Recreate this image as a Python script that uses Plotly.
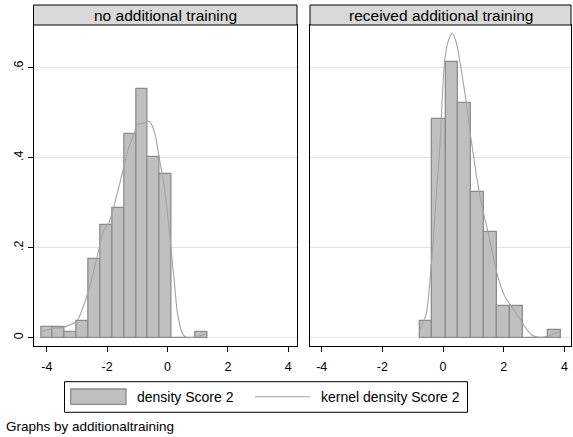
import plotly.graph_objects as go

# Histogram of Score 2 by additional training, with kernel density overlay
panel_titles = ["no additional training", "received additional training"]

# Left panel: no additional training
left_bin_edges = [-4.19, -3.80, -3.40, -3.01, -2.62, -2.22, -1.83, -1.44,
                  -1.04, -0.65, -0.26, 0.13, 0.52, 0.92, 1.31]
left_density = [0.024, 0.024, 0.012, 0.036, 0.175, 0.250, 0.288, 0.452,
                0.552, 0.401, 0.364, 0.0, 0.0, 0.012]
left_kde_x = [-4.19, -3.8, -3.4, -3.0, -2.83, -2.61, -2.44, -2.28, -2.11, -1.94,
              -1.78, -1.5, -1.28, -1.11, -1.0, -0.83, -0.61, -0.5, -0.39, -0.28,
              -0.11, 0.0, 0.11, 0.22, 0.33, 0.5, 0.67, 0.95, 1.28]
left_kde_y = [0.013, 0.021, 0.024, 0.037, 0.062, 0.106, 0.150, 0.195, 0.239, 0.256,
              0.291, 0.365, 0.424, 0.452, 0.474, 0.476, 0.481, 0.470, 0.445, 0.402,
              0.336, 0.276, 0.202, 0.128, 0.054, 0.008, 0.0, 0.002, 0.008]

# Right panel: received additional training
right_bin_edges = [-0.77, -0.35, 0.08, 0.50, 0.92, 1.35, 1.77, 2.20, 2.62,
                   3.04, 3.47, 3.89]
right_density = [0.036, 0.486, 0.612, 0.522, 0.324, 0.234, 0.071, 0.071,
                 0.0, 0.0, 0.018]
right_kde_x = [-0.77, -0.55, -0.44, -0.33, -0.22, -0.11, -0.03, 0.06, 0.2, 0.31,
               0.44, 0.55, 0.66, 0.77, 0.88, 0.99, 1.1, 1.27, 1.49, 1.65, 1.82,
               2.04, 2.26, 2.48, 2.7, 2.92, 3.14, 3.36, 3.63, 3.85]
right_kde_y = [0.017, 0.054, 0.121, 0.21, 0.321, 0.417, 0.53, 0.621, 0.665, 0.676,
               0.655, 0.615, 0.57, 0.52, 0.46, 0.41, 0.36, 0.295, 0.232, 0.18, 0.132,
               0.091, 0.069, 0.047, 0.024, 0.006, 0.001, 0.002, 0.008, 0.013]

x_ticks = [-4, -2, 0, 2, 4]
y_ticks = [0, 0.2, 0.4, 0.6]
y_tick_text = ["0", ".2", ".4", ".6"]
legend_labels = ["density Score 2", "kernel density Score 2"]
note_text = "Graphs by additionaltraining"

W, H = 573, 437
FONT = "Liberation Sans, Arial, sans-serif"
BAR_FILL = "#bfbfbf"
BAR_LINE = "#8c8c8c"
KDE_COLOR = "#a3a3a3"
GRID = "#e3e3e3"
STRIP = "#d9d9d9"


def px(x):
    return x / W


def py(y):
    return 1 - y / H


fig = go.Figure()

panels = [
    (left_bin_edges, left_density, left_kde_x, left_kde_y, "x", "y"),
    (right_bin_edges, right_density, right_kde_x, right_kde_y, "x2", "y2"),
]
for edges, dens, kx, ky, xa, ya in panels:
    centers = [(a + b) / 2 for a, b in zip(edges[:-1], edges[1:])]
    widths = [b - a for a, b in zip(edges[:-1], edges[1:])]
    fig.add_trace(go.Bar(
        x=centers, y=dens, width=widths, xaxis=xa, yaxis=ya,
        marker=dict(color=BAR_FILL, line=dict(color=BAR_LINE, width=1.3)),
        showlegend=False, hoverinfo="skip",
    ))
    fig.add_trace(go.Scatter(
        x=kx, y=ky, xaxis=xa, yaxis=ya, mode="lines",
        line=dict(color=KDE_COLOR, width=1.1, shape="spline", smoothing=0.6),
        showlegend=False, hoverinfo="skip",
    ))

# panel geometry in pixels
left_box = (33.5, 297.0)
right_box = (310.0, 571.0)
plot_top, plot_bottom = 25.0, 345.7
strip_top = 5.0
y_range = [-0.0178, 0.695]

common_x = dict(
    tickvals=x_ticks, ticktext=[str(t) for t in x_ticks],
    ticks="outside", ticklen=5, tickcolor="black", tickwidth=1,
    ticklabelstandoff=4,
    showline=True, linecolor="black", linewidth=1, mirror=True,
    showgrid=False, zeroline=False,
    tickfont=dict(family=FONT, size=12.5, color="black"),
)
common_y = dict(
    range=y_range, tickvals=y_ticks, ticktext=y_tick_text,
    showline=True, linecolor="black", linewidth=1, mirror=True,
    showgrid=True, gridcolor=GRID, gridwidth=1, zeroline=False,
    domain=[py(plot_bottom), py(plot_top)],
    tickfont=dict(family=FONT, size=12.5, color="black"),
)

fig.update_layout(
    width=W, height=H,
    margin=dict(l=0, r=0, t=0, b=0),
    paper_bgcolor="white", plot_bgcolor="white",
    bargap=0, showlegend=False,
    xaxis=dict(common_x, domain=[px(left_box[0]), px(left_box[1])],
               range=[-4.44, 4.29], anchor="y"),
    xaxis2=dict(common_x, domain=[px(right_box[0]), px(right_box[1])],
                range=[-4.386, 4.215], anchor="y2"),
    yaxis=dict(common_y, anchor="x", ticks="outside", ticklen=5,
               tickcolor="black", tickangle=-90),
    yaxis2=dict(common_y, anchor="x2", ticks="", showticklabels=False,
                matches="y"),
)

shapes = []
annotations = []
# title strips above each panel
for (x0, x1), title in zip([left_box, right_box], panel_titles):
    shapes.append(dict(type="rect", xref="paper", yref="paper",
                       x0=px(x0), x1=px(x1), y0=py(plot_top), y1=py(strip_top),
                       fillcolor=STRIP, line=dict(color="black", width=1),
                       layer="above"))
    annotations.append(dict(text=title, xref="paper", yref="paper",
                            x=px((x0 + x1) / 2), y=py((plot_top + strip_top) / 2),
                            xanchor="center", yanchor="middle", showarrow=False,
                            font=dict(family=FONT, size=15.5, color="black")))

# legend box
shapes.append(dict(type="rect", xref="paper", yref="paper",
                   x0=px(64.5), x1=px(467.5), y0=py(412.3), y1=py(381.7),
                   fillcolor="white", line=dict(color="black", width=1)))
shapes.append(dict(type="rect", xref="paper", yref="paper",
                   x0=px(70.7), x1=px(126), y0=py(404.3), y1=py(389),
                   fillcolor=BAR_FILL, line=dict(color=BAR_LINE, width=1.3)))
shapes.append(dict(type="line", xref="paper", yref="paper",
                   x0=px(255), x1=px(310), y0=py(396.7), y1=py(396.7),
                   line=dict(color=KDE_COLOR, width=1.1)))
annotations.append(dict(text=legend_labels[0], xref="paper", yref="paper",
                        x=px(134.5), y=py(396.7), xanchor="left", yanchor="middle",
                        showarrow=False,
                        font=dict(family=FONT, size=14, color="black")))
annotations.append(dict(text=legend_labels[1], xref="paper", yref="paper",
                        x=px(318.5), y=py(396.7), xanchor="left", yanchor="middle",
                        showarrow=False,
                        font=dict(family=FONT, size=14, color="black")))
annotations.append(dict(text=note_text, xref="paper", yref="paper",
                        x=px(3.5), y=py(426.7), xanchor="left", yanchor="middle",
                        showarrow=False,
                        font=dict(family=FONT, size=13.5, color="black")))

fig.update_layout(shapes=shapes, annotations=annotations)
fig.write_html("out.html")
